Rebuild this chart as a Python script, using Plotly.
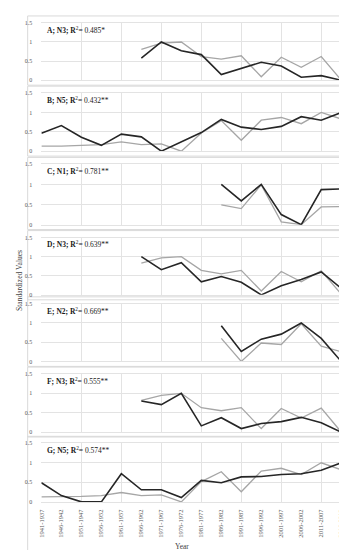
import plotly.graph_objects as go

W, H = 347, 550

categories = ["1941-1937", "1946-1942", "1951-1947", "1956-1952", "1961-1957",
              "1966-1962", "1971-1967", "1976-1972", "1981-1977", "1986-1982",
              "1991-1987", "1996-1992", "2001-1997", "2006-2002", "2011-2007",
              "2016-2012"]

N = None
a_black = [N, N, N, N, N, 0.58, 1.0, 0.77, 0.67, 0.15, 0.31, 0.47, 0.37, 0.08, 0.12, 0.0]
a_gray  = [N, N, N, N, N, 0.81, 0.97, 1.0, 0.62, 0.55, 0.64, 0.09, 0.60, 0.34, 0.62, 0.0]
b_black = [0.46, 0.66, 0.36, 0.15, 0.44, 0.37, 0.0, 0.23, 0.48, 0.82, 0.62, 0.56, 0.64, 0.89, 0.80, 1.0]
b_gray  = [0.13, 0.13, 0.15, 0.17, 0.24, 0.17, 0.19, 0.0, 0.47, 0.79, 0.28, 0.80, 0.87, 0.71, 1.0, 0.83]
c_black = [N, N, N, N, N, N, N, N, N, 1.0, 0.59, 1.0, 0.25, 0.0, 0.87, 0.89]
c_gray  = [N, N, N, N, N, N, N, N, N, 0.49, 0.40, 0.99, 0.07, 0.0, 0.44, 0.45]
d_black = [N, N, N, N, N, 1.0, 0.66, 0.84, 0.34, 0.48, 0.33, 0.0, 0.24, 0.40, 0.60, 0.17]
d_gray  = [N, N, N, N, N, 0.83, 0.97, 1.0, 0.64, 0.55, 0.64, 0.10, 0.61, 0.34, 0.63, 0.02]
e_black = [N, N, N, N, N, N, N, N, N, 0.93, 0.26, 0.58, 0.71, 1.0, 0.60, 0.0]
e_gray  = [N, N, N, N, N, N, N, N, N, 0.60, 0.0, 0.48, 0.44, 0.98, 0.40, 0.25]
f_black = [N, N, N, N, N, 0.80, 0.71, 1.0, 0.16, 0.37, 0.09, 0.22, 0.27, 0.38, 0.24, 0.0]
f_gray  = [N, N, N, N, N, 0.82, 0.95, 1.0, 0.63, 0.55, 0.63, 0.09, 0.61, 0.36, 0.62, 0.0]
g_black = [0.49, 0.16, 0.0, 0.0, 0.72, 0.31, 0.31, 0.11, 0.55, 0.49, 0.64, 0.65, 0.70, 0.72, 0.81, 1.0]
g_gray  = [0.13, 0.13, 0.14, 0.16, 0.24, 0.16, 0.18, 0.0, 0.52, 0.77, 0.26, 0.79, 0.86, 0.70, 1.0, 0.82]

panel_labels = ["A; N3;", "B; N5;", "C; N1;", "D; N3;", "E; N2;", "F; N3;", "G; N5;"]
panel_r2 = ["0.485*", "0.432**", "0.781**", "0.639**", "0.669**", "0.555**", "0.574**"]
y_ticks = [0, 0.5, 1, 1.5]
y_ticktext = ["0", "0.5", "1", "1.5"]

blacks = [a_black, b_black, c_black, d_black, e_black, f_black, g_black]
grays = [a_gray, b_gray, c_gray, d_gray, e_gray, f_gray, g_gray]

# pixel positions of each panel's plot area (top = 1.5 line, bottom = 0 line)
tops = [12, 83, 155, 229, 296, 367, 437]
bottoms = [70, 141.7, 216, 287, 354.3, 425.7, 496.3]
x_left, x_right = 30, 336

def px(x):
    return x / W

def py(y):
    return 1 - y / H

FONT = "Liberation Serif"
xidx = list(range(len(categories)))

fig = go.Figure()
layout = dict(
    width=W, height=H,
    margin=dict(l=0, r=0, t=0, b=0),
    paper_bgcolor="white", plot_bgcolor="white",
    showlegend=False,
    font=dict(family=FONT, size=7, color="#595959"),
)
shapes = []
annotations = []

for k in range(7):
    n = k + 1
    xa = "x" if n == 1 else f"x{n}"
    ya = "y" if n == 1 else f"y{n}"
    fig.add_trace(go.Scatter(x=xidx, y=grays[k], mode="lines",
                             line=dict(color="#a6a6a6", width=1.3),
                             xaxis=xa, yaxis=ya, connectgaps=False,
                             hoverinfo="skip"))
    fig.add_trace(go.Scatter(x=xidx, y=blacks[k], mode="lines",
                             line=dict(color="#262626", width=1.6),
                             xaxis=xa, yaxis=ya, connectgaps=False,
                             hoverinfo="skip"))
    xkey = "xaxis" if n == 1 else f"xaxis{n}"
    ykey = "yaxis" if n == 1 else f"yaxis{n}"
    layout[xkey] = dict(
        domain=[px(x_left), px(x_right)], anchor=ya,
        range=[0, 15], tickmode="linear", tick0=0, dtick=2,
        showgrid=True, gridcolor="#e3e3e3", gridwidth=1,
        showticklabels=False, zeroline=False,
        showline=True, linecolor="#e3e3e3", mirror=True, ticks="",
    )
    layout[ykey] = dict(
        domain=[py(bottoms[k]), py(tops[k])], anchor=xa,
        range=[0, 1.5], tickmode="array", tickvals=y_ticks, ticktext=y_ticktext,
        showgrid=True, gridcolor="#e3e3e3", gridwidth=1, zeroline=False,
        ticks="outside", ticklen=7, tickcolor="rgba(0,0,0,0)",
        tickfont=dict(family=FONT, size=6, color="#595959"),
        showline=False,
    )
    # panel frame
    ftop = tops[k] - 7
    fbot = bottoms[k] + 5 if k < 6 else 548
    shapes.append(dict(type="rect", xref="paper", yref="paper",
                       x0=px(16), x1=px(345), y0=py(fbot), y1=py(ftop),
                       line=dict(color="#d9d9d9", width=1), fillcolor="rgba(0,0,0,0)",
                       layer="below"))
    annotations.append(dict(
        xref="paper", yref="paper", x=px(34), y=py(tops[k] + 7),
        xanchor="left", yanchor="middle", showarrow=False,
        text=f"<b>{panel_labels[k]} R</b><sup>2</sup>= {panel_r2[k]}",
        font=dict(family=FONT, size=7.5, color="#1a1a1a"),
    ))

# category labels on an overlaying axis for the bottom panel
fig.add_trace(go.Scatter(x=xidx, y=[None] * len(xidx), xaxis="x8", yaxis="y7",
                         mode="lines", hoverinfo="skip"))
layout["xaxis8"] = dict(
    domain=[px(x_left), px(x_right)], anchor="y7", overlaying="x7",
    range=[0, 15], tickmode="array", tickvals=xidx, ticktext=categories,
    tickangle=-90, showgrid=False, zeroline=False, showline=False,
    ticks="outside", ticklen=4, tickcolor="rgba(0,0,0,0)",
    tickfont=dict(family=FONT, size=6.5, color="#595959"),
)

annotations.append(dict(xref="paper", yref="paper", x=px(7), y=py(272),
                        text="Standardized Values", textangle=-90, showarrow=False,
                        font=dict(family=FONT, size=7.5, color="#404040"),
                        xanchor="center", yanchor="middle"))
annotations.append(dict(xref="paper", yref="paper", x=px(173), y=py(541),
                        text="Year", showarrow=False,
                        font=dict(family=FONT, size=7.5, color="#404040"),
                        xanchor="center", yanchor="middle"))

layout["shapes"] = shapes
layout["annotations"] = annotations
fig.update_layout(**layout)
fig.write_html("out.html")
